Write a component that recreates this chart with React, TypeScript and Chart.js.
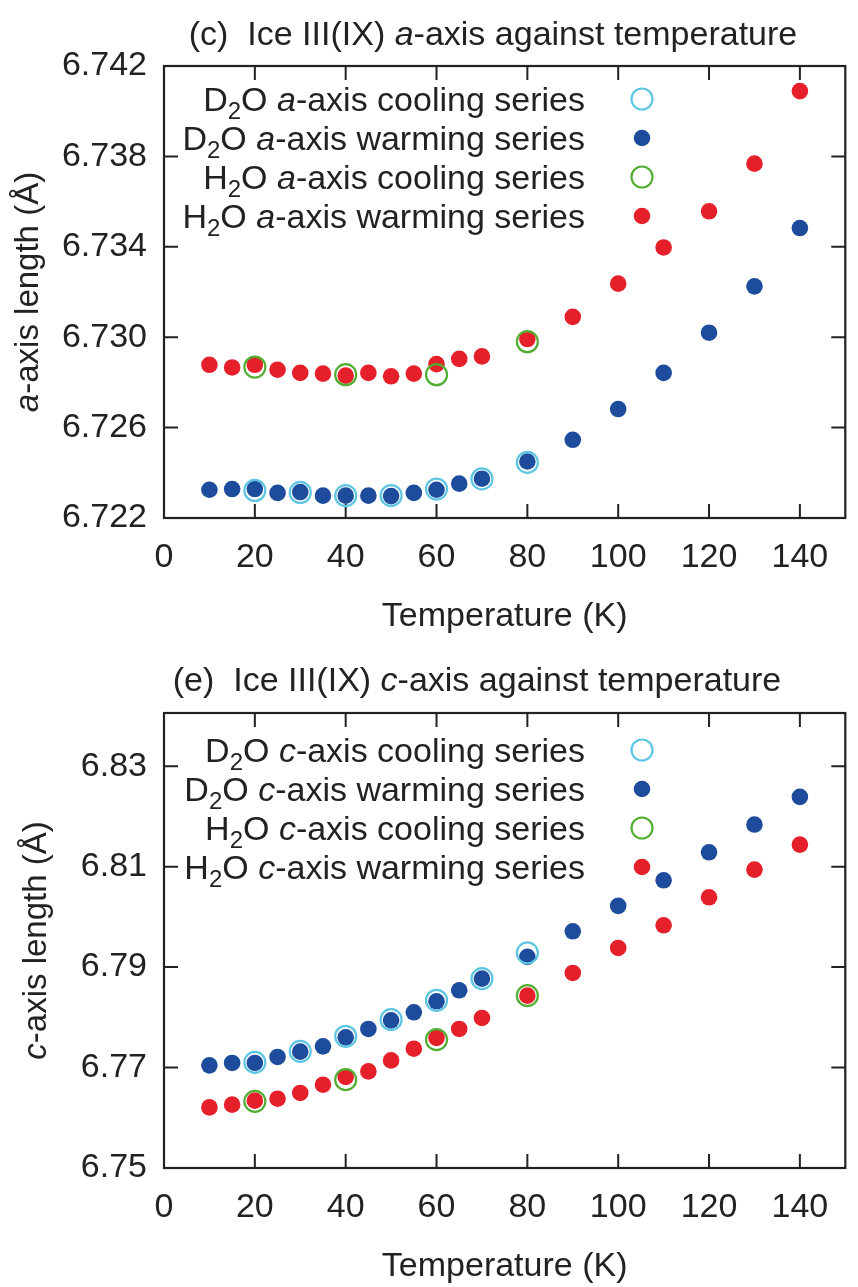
import React, { useEffect, useRef } from "react";
import { Chart, registerables } from "chart.js";

Chart.register(...registerables);

// ---------------- data ----------------
const warmTemps = [10, 15, 20, 25, 30, 35, 40, 45, 50, 55, 60, 65, 70, 80, 90, 100, 110, 120, 130, 140];
const coolTempsD2O = [20, 30, 40, 50, 60, 70, 80];
const coolTempsH2O = [20, 40, 60, 80];

const aD2OWarm = [6.72325, 6.72328, 6.72328, 6.72311, 6.72315, 6.72299, 6.72299, 6.72299, 6.72297, 6.72311, 6.72325, 6.72352, 6.72374, 6.7245, 6.72546, 6.72682, 6.72842, 6.7302, 6.73225, 6.73483];
const aH2OWarm = [6.72878, 6.72866, 6.72878, 6.72856, 6.72842, 6.72839, 6.7283, 6.72842, 6.72827, 6.72839, 6.72881, 6.72904, 6.72915, 6.72992, 6.7309, 6.73237, 6.73397, 6.73557, 6.73768, 6.74089];
const aD2OCool = [6.72322, 6.72313, 6.72299, 6.72299, 6.72328, 6.72373, 6.72446];
const aH2OCool = [6.72868, 6.72834, 6.72834, 6.7298];

const cD2OWarm = [6.77044, 6.77092, 6.77092, 6.77211, 6.77317, 6.77422, 6.77602, 6.77769, 6.7794, 6.781, 6.78319, 6.78538, 6.78771, 6.79203, 6.79713, 6.8022, 6.80729, 6.81287, 6.81839, 6.8239];
const cH2OWarm = [6.76207, 6.76261, 6.76341, 6.7638, 6.76494, 6.76659, 6.76813, 6.76924, 6.77143, 6.77376, 6.7759, 6.77769, 6.77988, 6.78432, 6.78884, 6.79382, 6.79833, 6.8039, 6.80942, 6.8144];
const cD2OCool = [6.77104, 6.77323, 6.77622, 6.77954, 6.78339, 6.78771, 6.79283];
const cH2OCool = [6.76327, 6.76759, 6.77556, 6.78432];

const xTickValues = [0, 20, 40, 60, 80, 100, 120, 140];
const aTickValues = [6.722, 6.726, 6.73, 6.734, 6.738, 6.742];
const cTickValues = [6.75, 6.77, 6.79, 6.81, 6.83];

const seriesNames = ["cooling", "warming", "cooling", "warming"];
const seriesIsotopes = ["D", "D", "H", "H"];

// ---------------- styles ----------------
const FAMILY = '"Liberation Sans", Arial, Helvetica, sans-serif';
const FS = 34;
const TEXT = "#222";
const CYAN = "#5ec6e2";
const BLUE = "#1d4c9c";
const GREEN = "#52ae32";
const RED = "#e5202a";

type Run = { t: string; it?: boolean; sub?: boolean };

function runFont(r: Run, size: number) {
  return `${r.it ? "italic " : ""}${r.sub ? Math.round(size * 0.72) : size}px ${FAMILY}`;
}
function measureRuns(ctx: CanvasRenderingContext2D, runs: Run[], size: number) {
  let w = 0;
  for (const r of runs) {
    ctx.font = runFont(r, size);
    w += ctx.measureText(r.t).width;
  }
  return w;
}
function drawRuns(ctx: CanvasRenderingContext2D, runs: Run[], x: number, y: number, size: number, align: "left" | "center" | "right") {
  const w = measureRuns(ctx, runs, size);
  let cx = align === "center" ? x - w / 2 : align === "right" ? x - w : x;
  ctx.textAlign = "left";
  ctx.textBaseline = "alphabetic";
  ctx.fillStyle = TEXT;
  for (const r of runs) {
    ctx.font = runFont(r, size);
    ctx.fillText(r.t, cx, y + (r.sub ? size * 0.24 : 0));
    cx += ctx.measureText(r.t).width;
  }
}

type PlotCfg = {
  height: number;
  plotTop: number;
  plotBottom: number;
  axisLetter: string;
  titlePrefix: string;
  titleX: number;
  titleBaseline: number;
  yTitleX: number;
  legendOffset: number;
  warm: number[][];
  cool: number[][];
  yMin: number;
  yMax: number;
  yTicks: number[];
  yDecimals: number;
  xTitlePad: number;
};

function makePlugin(cfg: PlotCfg) {
  return {
    id: "decor",
    beforeDatasetsDraw(chart: any) {
      const { ctx, chartArea } = chart;
      const { left, right, top, bottom } = chartArea;
      const xs = chart.scales.x;
      const ys = chart.scales.y;
      ctx.save();
      ctx.strokeStyle = TEXT;
      ctx.lineWidth = 2.2;
      ctx.strokeRect(left, top, right - left, bottom - top);
      const L = 14;
      ctx.lineWidth = 2;
      ctx.beginPath();
      for (const t of xs.ticks) {
        const px = xs.getPixelForValue(t.value);
        if (px <= left + 1 || px >= right - 1) continue;
        ctx.moveTo(px, bottom);
        ctx.lineTo(px, bottom - L);
        ctx.moveTo(px, top);
        ctx.lineTo(px, top + L);
      }
      for (const t of ys.ticks) {
        const py = ys.getPixelForValue(t.value);
        if (py <= top + 1 || py >= bottom - 1) continue;
        ctx.moveTo(left, py);
        ctx.lineTo(left + L, py);
        ctx.moveTo(right, py);
        ctx.lineTo(right - L, py);
      }
      ctx.stroke();
      ctx.restore();
    },
    afterDraw(chart: any) {
      const { ctx, chartArea } = chart;
      ctx.save();
      // title
      drawRuns(
        ctx,
        [{ t: cfg.titlePrefix + "  Ice III(IX) " }, { t: cfg.axisLetter, it: true }, { t: "-axis against temperature" }],
        cfg.titleX,
        cfg.titleBaseline,
        FS,
        "center"
      );
      // y title (rotated)
      ctx.save();
      ctx.translate(cfg.yTitleX, (chartArea.top + chartArea.bottom) / 2);
      ctx.rotate(-Math.PI / 2);
      drawRuns(ctx, [{ t: cfg.axisLetter, it: true }, { t: "-axis length (Å)" }], 0, 0, 33, "center");
      ctx.restore();
      // legend
      const ds = chart.data.datasets;
      for (let i = 0; i < 4; i++) {
        const y = chartArea.top + cfg.legendOffset + i * 39;
        const runs: Run[] = [
          { t: seriesIsotopes[i] },
          { t: "2", sub: true },
          { t: "O " },
          { t: cfg.axisLetter, it: true },
          { t: "-axis " + seriesNames[i] + " series" },
        ];
        drawRuns(ctx, runs, 585, y + 12, FS, "right");
        const d = ds[i];
        ctx.beginPath();
        ctx.arc(642, y, d.pointRadius, 0, Math.PI * 2);
        if (d.pointBorderWidth > 0) {
          ctx.lineWidth = d.pointBorderWidth;
          ctx.strokeStyle = d.pointBorderColor;
          ctx.stroke();
        } else {
          ctx.fillStyle = d.pointBackgroundColor;
          ctx.fill();
        }
      }
      ctx.restore();
    },
  };
}

function toXY(xs: number[], ys: number[]) {
  return xs.map((x, i) => ({ x, y: ys[i] }));
}

function openStyle(color: string) {
  return {
    pointRadius: 10.5,
    pointHoverRadius: 10.5,
    pointBorderWidth: 2.2,
    pointBorderColor: color,
    pointBackgroundColor: "rgba(0,0,0,0)",
    showLine: false,
  };
}
function filledStyle(color: string) {
  return {
    pointRadius: 8.3,
    pointHoverRadius: 8.3,
    pointBorderWidth: 0,
    pointBorderColor: color,
    pointBackgroundColor: color,
    showLine: false,
  };
}

function IcePlot({ cfg }: { cfg: PlotCfg }) {
  const ref = useRef<HTMLCanvasElement | null>(null);
  useEffect(() => {
    if (!ref.current) return;
    const H = cfg.height;
    const chart = new Chart(ref.current, {
      type: "scatter",
      data: {
        datasets: [
          { label: "D2O cooling", data: toXY(coolTempsD2O, cfg.cool[0]), ...openStyle(CYAN) },
          { label: "D2O warming", data: toXY(warmTemps, cfg.warm[0]), ...filledStyle(BLUE) },
          { label: "H2O cooling", data: toXY(coolTempsH2O, cfg.cool[1]), ...openStyle(GREEN) },
          { label: "H2O warming", data: toXY(warmTemps, cfg.warm[1]), ...filledStyle(RED) },
        ] as any,
      },
      options: {
        responsive: false,
        animation: false,
        devicePixelRatio: 1,
        layout: { padding: { top: cfg.plotTop, right: 1, left: 0, bottom: 0 } },
        plugins: { legend: { display: false }, tooltip: { enabled: false }, title: { display: false } },
        scales: {
          x: {
            type: "linear",
            min: 0,
            max: 150,
            afterBuildTicks: (s: any) => {
              s.ticks = xTickValues.map((v) => ({ value: v }));
            },
            afterFit: (s: any) => {
              s.height = H - cfg.plotBottom;
            },
            grid: { display: false, drawTicks: false },
            border: { display: false },
            ticks: {
              padding: 19,
              color: TEXT,
              font: { size: FS, family: FAMILY },
              maxRotation: 0,
              callback: (v: any) => String(v),
            },
            title: {
              display: true,
              text: "Temperature (K)",
              color: TEXT,
              font: { size: FS, family: FAMILY },
              padding: { top: 0, bottom: cfg.xTitlePad },
            },
          },
          y: {
            type: "linear",
            min: cfg.yMin,
            max: cfg.yMax,
            afterBuildTicks: (s: any) => {
              s.ticks = cfg.yTicks.map((v) => ({ value: v }));
            },
            afterFit: (s: any) => {
              s.width = 164;
            },
            grid: { display: false, drawTicks: false },
            border: { display: false },
            ticks: {
              padding: 17,
              color: TEXT,
              font: { size: FS, family: FAMILY },
              callback: (v: any) => Number(v).toFixed(cfg.yDecimals),
            },
          },
        },
      } as any,
      plugins: [makePlugin(cfg)],
    });
    return () => chart.destroy();
  }, [cfg]);
  return <canvas ref={ref} width={858} height={cfg.height} style={{ display: "block" }} />;
}

const topCfg: PlotCfg = {
  height: 646,
  plotTop: 66,
  plotBottom: 518,
  axisLetter: "a",
  titlePrefix: "(c)",
  titleX: 493,
  titleBaseline: 45,
  yTitleX: 38,
  legendOffset: 33,
  warm: [aD2OWarm, aH2OWarm],
  cool: [aD2OCool, aH2OCool],
  yMin: 6.722,
  yMax: 6.742,
  yTicks: aTickValues,
  yDecimals: 3,
  xTitlePad: 9,
};

const bottomCfg: PlotCfg = {
  height: 641,
  plotTop: 67,
  plotBottom: 522,
  axisLetter: "c",
  titlePrefix: "(e)",
  titleX: 477,
  titleBaseline: 45,
  yTitleX: 46,
  legendOffset: 37,
  warm: [cD2OWarm, cH2OWarm],
  cool: [cD2OCool, cH2OCool],
  yMin: 6.75,
  yMax: 6.8406,
  yTicks: cTickValues,
  yDecimals: 2,
  xTitlePad: 0,
};

export default function App() {
  return (
    <div style={{ position: "absolute", left: 0, top: 0, width: 858, height: 1287, background: "#fff" }}>
      <IcePlot cfg={topCfg} />
      <IcePlot cfg={bottomCfg} />
    </div>
  );
}
